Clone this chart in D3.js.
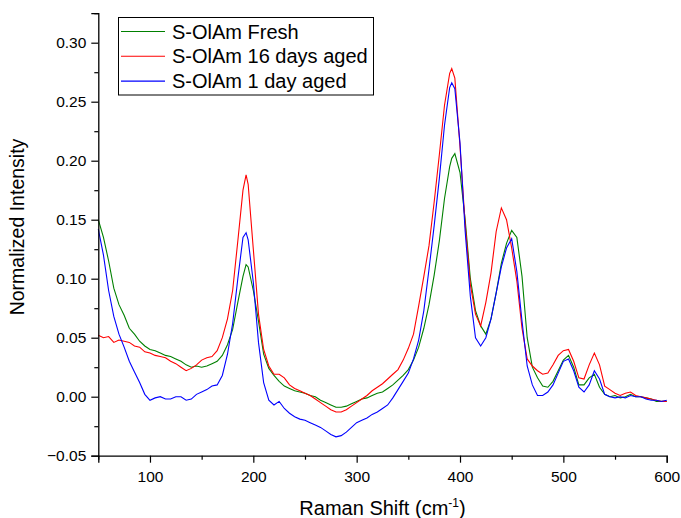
<!DOCTYPE html>
<html>
<head>
<meta charset="utf-8">
<script src="https://cdn.jsdelivr.net/npm/d3@7"></script>
<style>
  body { margin: 0; background: #fff; }
  svg { font-family: Arial, "Liberation Sans", sans-serif; }
  .line { fill: none; stroke-width: 1.1; }
</style>
</head>
<body>
<script>
var shift = [50,55,60,65,70,75,80,85,90,95,100,105,110,115,120,125,130,135,140,145,150,155,160,165,170,175,180,185,190,193,
  195,200,205,210,215,220,225,230,235,240,245,250,255,260,265,270,275,280,285,290,295,300,305,310,315,320,325,330,335,340,
  345,350,355,360,365,370,375,380,385,390,392,395,400,405,410,415,420,425,430,435,440,445,450,455,460,465,470,475,480,485,
  490,495,500,505,510,515,520,525,530,535,540,545,550,555,560,565,570,575,580,585,590,595,600];

var fresh = [0.150,0.135,0.115,0.092,0.078,0.069,0.058,0.053,0.047,0.043,0.040,0.039,0.037,0.035,0.034,0.032,0.030,0.027,0.025,0.026,
  0.025,0.026,0.028,0.030,0.035,0.044,0.057,0.080,0.102,0.112,
  0.110,0.090,0.064,0.036,0.024,0.018,0.013,0.009,0.007,0.005,0.004,0.003,0.001,0.000,-0.003,-0.005,-0.007,-0.009,-0.009,-0.008,
  -0.006,-0.004,-0.002,-0.001,0.001,0.003,0.004,0.007,0.010,0.014,0.018,0.023,0.031,0.042,0.058,0.078,0.103,0.132,0.168,0.195,
  0.202,0.206,0.190,0.150,0.100,0.073,0.060,0.053,0.066,0.088,0.113,0.130,0.141,0.135,0.102,0.050,0.025,0.016,0.009,0.008,
  0.013,0.022,0.031,0.035,0.025,0.010,0.010,0.016,0.019,0.008,0.002,0.000,0.001,-0.001,0.000,0.002,0.000,0.000,-0.001,-0.002,
  -0.004,-0.004,-0.004];

var aged16 = [0.052,0.050,0.051,0.046,0.048,0.047,0.046,0.043,0.042,0.038,0.037,0.035,0.034,0.033,0.030,0.028,0.025,0.022,0.024,0.027,
  0.031,0.033,0.034,0.039,0.050,0.066,0.090,0.132,0.175,0.188,
  0.180,0.125,0.070,0.040,0.026,0.019,0.019,0.016,0.010,0.007,0.005,0.003,0.001,-0.002,-0.005,-0.008,-0.011,-0.013,-0.013,-0.011,
  -0.008,-0.005,-0.002,0.001,0.005,0.008,0.011,0.015,0.019,0.023,0.031,0.041,0.053,0.077,0.102,0.128,0.165,0.205,0.247,0.274,
  0.278,0.270,0.212,0.146,0.095,0.070,0.060,0.080,0.105,0.140,0.160,0.150,0.126,0.098,0.058,0.032,0.026,0.022,0.019,0.020,
  0.027,0.035,0.039,0.040,0.030,0.016,0.015,0.027,0.037,0.027,0.009,0.006,0.003,0.001,0.003,0.004,0.001,0.000,-0.001,-0.002,
  -0.003,-0.004,-0.004];

var aged1 = [0.142,0.120,0.090,0.068,0.053,0.042,0.030,0.021,0.012,0.002,-0.003,-0.001,0.000,-0.002,-0.002,0.000,0.000,-0.003,-0.002,0.002,
  0.004,0.006,0.009,0.010,0.018,0.036,0.062,0.100,0.135,0.139,
  0.133,0.097,0.046,0.012,-0.003,-0.007,-0.004,-0.010,-0.014,-0.017,-0.019,-0.020,-0.022,-0.024,-0.026,-0.029,-0.032,-0.034,-0.033,-0.030,
  -0.026,-0.022,-0.020,-0.018,-0.015,-0.013,-0.010,-0.007,-0.001,0.006,0.013,0.020,0.032,0.048,0.073,0.108,0.145,0.185,0.230,0.262,
  0.266,0.261,0.215,0.140,0.085,0.050,0.043,0.050,0.066,0.088,0.110,0.126,0.134,0.106,0.064,0.026,0.010,0.001,0.001,0.004,
  0.010,0.020,0.030,0.032,0.022,0.008,0.004,0.010,0.022,0.015,0.002,0.000,-0.001,0.000,-0.001,0.001,0.000,0.000,-0.002,-0.003,
  -0.003,-0.004,-0.003];

var seriesNames = ["S-OlAm Fresh", "S-OlAm 16 days aged", "S-OlAm 1 day aged"];
var seriesColors = ["#008000", "#ff0000", "#0000ff"];
var seriesValues = [fresh, aged16, aged1];

var xTicks = [100, 200, 300, 400, 500, 600];
var xMinor = [50, 150, 250, 350, 450, 550];
var yTicks = [-0.05, 0, 0.05, 0.1, 0.15, 0.2, 0.25, 0.3];
var yMinor = [-0.025, 0.025, 0.075, 0.125, 0.175, 0.225, 0.275, 0.325];

function drawChart() {
  var W = 681, H = 518;
  var m = { left: 98.3, right: 14.3, top: 13.2, bottom: 62.3 };
  var svg = d3.select("body").append("svg").attr("width", W).attr("height", H);

  var x = d3.scaleLinear().domain([50, 600]).range([m.left, W - m.right]);
  var y = d3.scaleLinear().domain([-0.05, 0.325]).range([H - m.bottom, m.top]);

  // curves
  var line = d3.line()
    .x(function (d, i) { return x(shift[i]); })
    .y(function (d) { return y(d); });
  seriesValues.forEach(function (vals, k) {
    svg.append("path")
      .attr("class", "line")
      .attr("d", line(vals))
      .attr("stroke", seriesColors[k]);
  });

  // axes
  var xAxis = svg.append("g").attr("transform", "translate(0," + y(-0.05) + ")");
  xAxis.call(d3.axisBottom(x).tickValues(xTicks).tickSize(7).tickPadding(8).tickFormat(d3.format("d")));
  xAxis.append("g").call(d3.axisBottom(x).tickValues(xMinor).tickSize(4).tickFormat(""));
  var yAxis = svg.append("g").attr("transform", "translate(" + x(50) + ",0)");
  yAxis.call(d3.axisLeft(y).tickValues(yTicks).tickSize(7).tickPadding(5).tickFormat(d3.format(".2f")));
  yAxis.append("g").call(d3.axisLeft(y).tickValues(yMinor).tickSize(4).tickFormat(""));

  svg.selectAll(".domain").attr("stroke", "#000").attr("stroke-width", 1.3);
  svg.selectAll(".tick line").attr("stroke", "#000").attr("stroke-width", 1.2);
  svg.selectAll(".tick text").attr("font-size", 15.5).attr("fill", "#000")
    .attr("font-family", "Arial, 'Liberation Sans', sans-serif");
  // minor axes only add ticks
  svg.selectAll("g g .domain").remove();

  // axis titles
  var xt = svg.append("text")
    .attr("x", (m.left + W - m.right) / 2)
    .attr("y", 515)
    .attr("text-anchor", "middle")
    .attr("font-size", 20);
  xt.append("tspan").text("Raman Shift (cm");
  xt.append("tspan").attr("font-size", 12).attr("dy", -8).text("-1");
  xt.append("tspan").attr("dy", 8).text(")");

  svg.append("text")
    .attr("transform", "translate(24,227) rotate(-90)")
    .attr("text-anchor", "middle")
    .attr("font-size", 19.5)
    .text("Normalized Intensity");

  // legend
  var lg = svg.append("g");
  lg.append("rect").attr("x", 118.5).attr("y", 17.5).attr("width", 255).attr("height", 77.5)
    .attr("fill", "#fff").attr("stroke", "#000").attr("stroke-width", 1);
  seriesNames.forEach(function (name, k) {
    var cy = 31.5 + k * 24.8;
    lg.append("line").attr("x1", 121).attr("x2", 165).attr("y1", cy).attr("y2", cy)
      .attr("stroke", seriesColors[k]).attr("stroke-width", 1.1);
    lg.append("text").attr("x", 172).attr("y", cy + 7).attr("font-size", 20).text(name);
  });
}
drawChart();
</script>
</body>
</html>
